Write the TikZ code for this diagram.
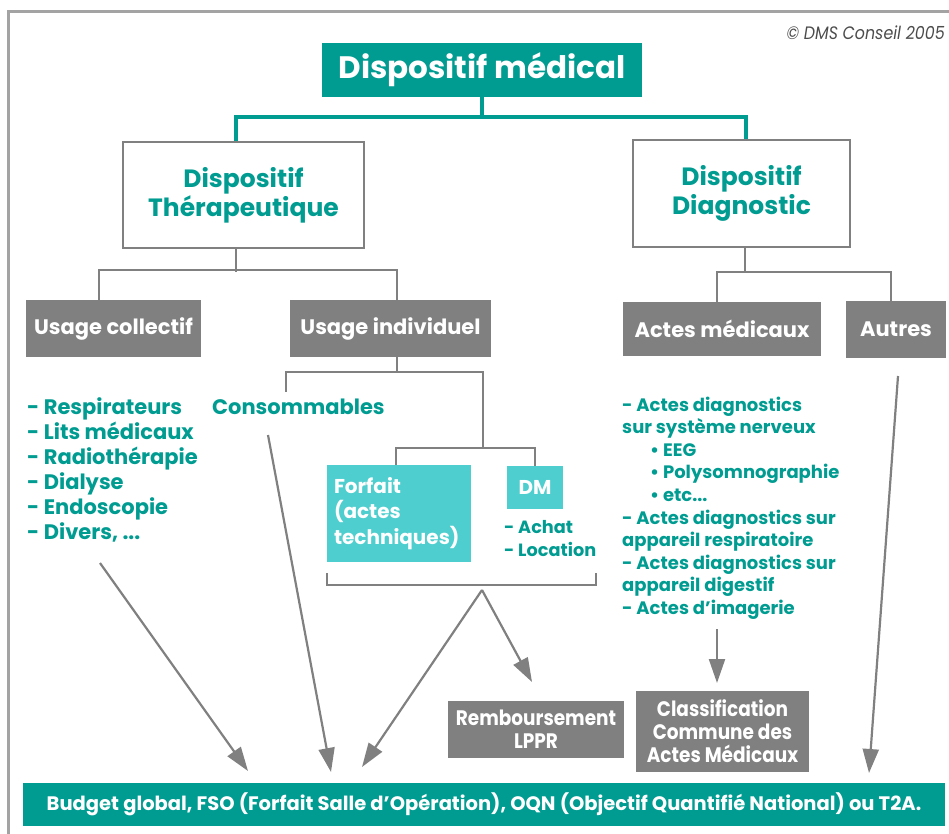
\documentclass[tikz,border=0pt]{standalone}
\usepackage{fontspec}
\setmainfont{Poppins}
\newfontfamily\narrowfont{Poppins}[FakeStretch=0.88]
\usetikzlibrary{arrows.meta}

\definecolor{dmsteal}{HTML}{009B91}
\definecolor{dmscyan}{HTML}{4ECECE}
\definecolor{dmsgray}{HTML}{808080}
\definecolor{framegray}{HTML}{A3A3A3}

\tikzset{
  tealbox/.style={fill=dmsteal, text=white, inner sep=0pt, font=\bfseries\fontsize{31}{33}\selectfont},
  whitebox/.style={draw=dmsgray, line width=2pt, fill=white, text=dmsteal, align=center, inner sep=0pt, font=\bfseries\fontsize{25}{29}\selectfont},
  graybox/.style={fill=dmsgray, text=white, inner sep=0pt, font=\bfseries\fontsize{21}{24}\selectfont},
  smallgray/.style={fill=dmsgray, text=white, inner sep=0pt, align=center, font=\narrowfont\bfseries\fontsize{21}{23}\selectfont},
  cyanbox/.style={fill=dmscyan, text=white, inner sep=0pt, font=\bfseries\fontsize{20}{25.5}\selectfont},
  listtext/.style={text=dmsteal, align=left, inner sep=0pt, font=\bfseries\fontsize{21}{25}\selectfont},
  tealline/.style={draw=dmsteal, line width=4pt},
  grayline/.style={draw=dmsgray, line width=2pt},
  grayarrow/.style={draw=dmsgray, line width=2.2pt, -{Triangle[length=24pt,width=16pt]}},
}

\begin{document}
\begin{tikzpicture}[x=1pt, y=-1pt]
  \useasboundingbox (0,0) rectangle (949,834);

  % frame and credit
  \draw[framegray, line width=3pt] (8,834) |- (949,12);
  \node[anchor=east, inner sep=0pt, text=black!70, font=\narrowfont\itshape\fontsize{18}{20}\selectfont] (credit) at (945,33) {© DMS Conseil 2005};

  % boxes
  \node[tealbox, minimum width=320pt, minimum height=54pt] (top) at (482,70) {Dispositif médical};
  \node[whitebox, minimum width=241pt, minimum height=106pt] (ther) at (243.5,195) {Dispositif\\Thérapeutique};
  \node[whitebox, minimum width=217pt, minimum height=107pt] (diag) at (741.5,193.5) {Dispositif\\Diagnostic};

  \node[graybox, minimum width=175pt, minimum height=57pt] (coll) at (113.5,328.5) {Usage collectif};
  \node[graybox, minimum width=201pt, minimum height=57pt] (indiv) at (390.5,328.5) {Usage individuel};
  \node[graybox, minimum width=198pt, minimum height=54pt] (actes) at (722,329) {Actes médicaux};
  \node[graybox, minimum width=100pt, minimum height=57pt] (autres) at (896,329.5) {Autres};

  \node[cyanbox, minimum width=144pt, minimum height=97pt, text width=130pt, align=left] (forfait) at (399,513.5) {Forfait\\(actes\\techniques)};
  \node[cyanbox, minimum width=56pt, minimum height=43pt] (dm) at (535,487.5) {DM};

  \node[smallgray, minimum width=176pt, minimum height=57pt] (lppr) at (536,729.5) {Remboursement\\LPPR};
  \node[smallgray, minimum width=173pt, minimum height=81pt] (ccam) at (722.5,731.5) {Classification\\Commune des\\Actes Médicaux};
  \node[tealbox, minimum width=922pt, minimum height=43pt, font=\bfseries\fontsize{19.5}{22}\selectfont] (budget) at (484,804.5) {Budget global, FSO (Forfait Salle d’Opération), OQN (Objectif Quantifié National) ou T2A.};

  % texts
  \node[listtext, anchor=west] (colllist) at (27,469.5) {- Respirateurs\\- Lits médicaux\\- Radiothérapie\\- Dialyse\\- Endoscopie\\- Divers, ...};
  \node[listtext, anchor=west] (conso) at (212,407) {Consommables};
  \node[listtext, anchor=west, font=\bfseries\fontsize{17.7}{23}\selectfont] (dmlist) at (504,538.5) {- Achat\\- Location};
  \node[listtext, anchor=west, font=\bfseries\fontsize{18}{22.6}\selectfont] (acteslist) at (622,508) {- Actes diagnostics\\sur système nerveux\\\hspace*{28pt}• EEG\\\hspace*{28pt}• Polysomnographie\\\hspace*{28pt}• etc...\\- Actes diagnostics sur\\appareil respiratoire\\- Actes diagnostics sur\\appareil digestif\\- Actes d’imagerie};

  % tree lines
  \draw[tealline] (top.south) -- ++(0,21);
  \draw[tealline] ([xshift=-8pt]ther.north) -- ++(0,-24) -| ([xshift=4pt]diag.north);
  \draw[grayline] ([xshift=-8pt]ther.south) -- ++(0,23);
  \draw[grayline] ([xshift=-14.5pt]coll.north) -- ++(0,-30) -| ([xshift=6.5pt]indiv.north);
  \draw[grayline] ([xshift=3.5pt]diag.south) -- ++(0,25);
  \draw[grayline] ([xshift=-5pt]actes.north) -- ++(0,-30) -| ([xshift=-5pt]autres.north);

  \coordinate (cons) at (286,392);
  \coordinate (fork) at (483,448);
  \draw[grayline] ([xshift=6.5pt]indiv.south) -- ++(0,15);
  \draw[grayline] (cons) -- ++(0,-20) -| (fork);
  \draw[grayline] ([xshift=-3pt]forfait.north) -- ++(0,-17) -| (dm.north);

  % bracket
  \coordinate (brL) at (327,573);
  \coordinate (brR) at (596,573);
  \draw[grayline] (brL) -- ++(0,12) -| (brR);

  % arrows
  \coordinate (c1) at (100,563);  \coordinate (c1e) at (248,771);
  \coordinate (c2) at (268,435);  \coordinate (c2e) at (331,772);
  \coordinate (apex) at (482,590);
  \coordinate (c3e) at (362,767);
  \coordinate (c4e) at (532,682);
  \coordinate (c5) at (717,629);  \coordinate (c5e) at (717,683);
  \coordinate (c6) at (898,376);  \coordinate (c6e) at (869,773);
  \draw[grayarrow] (c1) -- (c1e);
  \draw[grayarrow] (c2) -- (c2e);
  \draw[grayarrow] (apex) -- (c3e);
  \draw[grayarrow] (apex) -- (c4e);
  \draw[grayarrow] (c5) -- (c5e);
  \draw[grayarrow] (c6) -- (c6e);
\end{tikzpicture}
\end{document}
